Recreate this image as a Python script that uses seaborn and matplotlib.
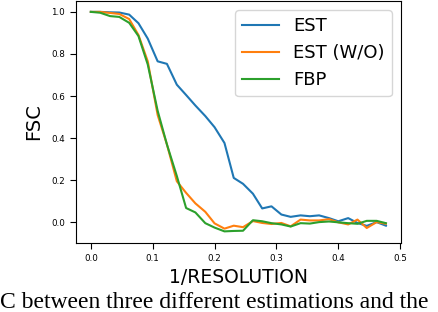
import numpy as np
import pandas as pd
import matplotlib
matplotlib.use("Agg")
import matplotlib.pyplot as plt
import seaborn as sns

# === data ===
inv_res = [0.000, 0.015, 0.031, 0.046, 0.062, 0.077, 0.092, 0.108,
           0.123, 0.139, 0.154, 0.169, 0.185, 0.200, 0.216, 0.231,
           0.246, 0.262, 0.277, 0.292, 0.308, 0.323, 0.339, 0.354,
           0.369, 0.385, 0.400, 0.416, 0.431, 0.446, 0.462, 0.477]

fsc_est = [1.000, 1.000, 0.998, 0.997, 0.987, 0.946, 0.873, 0.765,
           0.753, 0.654, 0.605, 0.555, 0.505, 0.452, 0.377, 0.211,
           0.183, 0.136, 0.066, 0.076, 0.037, 0.026, 0.033, 0.029,
           0.033, 0.020, 0.005, 0.020, -0.003, -0.017, 0.001, -0.016]

fsc_est_wo = [1.000, 1.000, 0.995, 0.990, 0.966, 0.890, 0.765, 0.510,
              0.370, 0.195, 0.140, 0.090, 0.050, -0.005, -0.030, -0.016,
              -0.023, 0.006, -0.003, -0.008, -0.003, -0.019, 0.013, 0.009,
              0.009, 0.015, 0.000, -0.010, 0.013, -0.027, 0.001, -0.007]

fsc_fbp = [1.000, 0.996, 0.980, 0.976, 0.948, 0.885, 0.750, 0.530,
           0.370, 0.220, 0.068, 0.047, -0.004, -0.025, -0.043, -0.041,
           -0.040, 0.010, 0.005, -0.004, -0.010, -0.020, -0.004, -0.006,
           0.001, 0.004, 0.000, -0.004, -0.007, 0.007, 0.007, -0.004]

methods = ["EST", "EST (W/O)", "FBP"]
colors = ["#1f77b4", "#ff7f0e", "#2ca02c"]

df = pd.concat([
    pd.DataFrame({"x": inv_res, "fsc": vals, "method": name})
    for name, vals in zip(methods, [fsc_est, fsc_est_wo, fsc_fbp])
], ignore_index=True)

# === figure ===
fig = plt.figure(figsize=(4.38, 3.12), dpi=100)
ax = fig.add_axes([0.1735, 0.222, 0.7415, 0.775])

sns.lineplot(data=df, x="x", y="fsc", hue="method", hue_order=methods,
             palette=colors, linewidth=1.5, ax=ax)

ax.set_xticks([0.0, 0.1, 0.2, 0.3, 0.4, 0.5])
ax.set_yticks([0.0, 0.2, 0.4, 0.6, 0.8, 1.0])
ax.set_xlim(-0.024, 0.501)
ax.set_ylim(-0.097, 1.052)
ax.tick_params(labelsize=6.3, length=4.3, width=0.8)
ax.set_xlabel("1/RESOLUTION", fontsize=13.5, labelpad=4)
ax.set_ylabel("FSC", fontsize=14, labelpad=6)

ax.legend(fontsize=13, loc="upper right")

# caption fragment from the paper page
fig.text(0.0, 0.013, "C between three different estimations and the",
         family="Liberation Serif", fontsize=17, ha="left", va="baseline")

fig.savefig("out.png", dpi=100)
